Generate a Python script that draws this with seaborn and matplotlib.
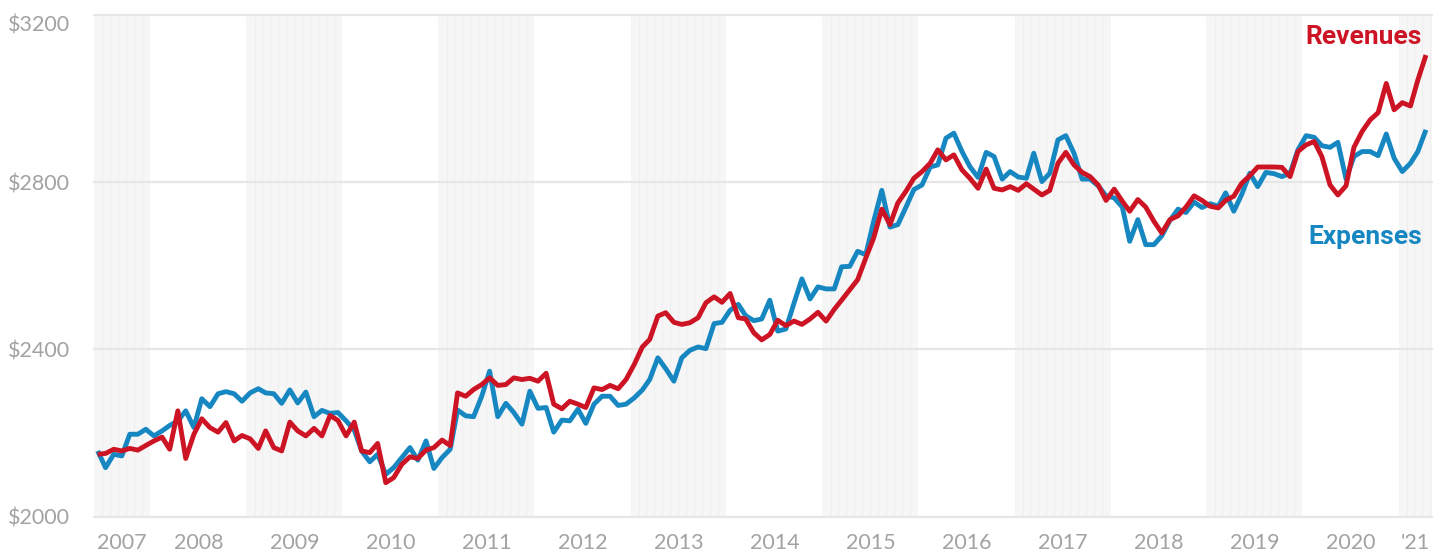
import matplotlib
matplotlib.use('Agg')
import matplotlib.pyplot as plt
from matplotlib.transforms import ScaledTranslation
import pandas as pd
import seaborn as sns

# monthly values, Jun 2007 .. Apr 2021
expenses = [
    2157, 2117, 2149, 2145, 2197, 2197, 2209,
    2193, 2205, 2218, 2229, 2253, 2213, 2282, 2263, 2294, 2299, 2294, 2276,
    2296, 2306, 2296, 2294, 2271, 2303, 2272, 2298, 2239, 2254, 2247, 2249,
    2229, 2207, 2157, 2131, 2149, 2101, 2117, 2141, 2165, 2135, 2181, 2115,
    2141, 2161, 2255, 2241, 2239, 2288, 2348, 2239, 2271, 2249, 2221, 2300,
    2259, 2261, 2202, 2231, 2229, 2257, 2223, 2269, 2288, 2288, 2266, 2269,
    2284, 2303, 2328, 2380, 2354, 2324, 2380, 2398, 2406, 2402, 2462, 2465,
    2494, 2508, 2481, 2469, 2473, 2518, 2444, 2449, 2511, 2569, 2521, 2550,
    2545, 2545, 2598, 2599, 2635, 2627, 2707, 2781, 2693, 2699, 2741, 2783,
    2794, 2837, 2842, 2906, 2918, 2874, 2838, 2812, 2872, 2862, 2808, 2826,
    2813, 2810, 2870, 2802, 2822, 2902, 2912, 2870, 2808, 2808, 2792, 2768,
    2763, 2741, 2659, 2711, 2651, 2651, 2672, 2709, 2736, 2728, 2753, 2740,
    2749, 2743, 2775, 2731, 2771, 2822, 2790, 2824, 2821, 2814, 2822, 2878,
    2912, 2908, 2888, 2884, 2896, 2808, 2862, 2874, 2874, 2864, 2916, 2858,
    2826, 2846, 2874, 2926,
]
revenues = [
    2149, 2151, 2161, 2157, 2163, 2159, 2170,
    2181, 2190, 2161, 2253, 2139, 2197, 2234, 2213, 2202, 2225, 2181, 2194,
    2186, 2163, 2205, 2165, 2157, 2226, 2205, 2193, 2211, 2193, 2242, 2230,
    2193, 2226, 2157, 2153, 2175, 2081, 2093, 2125, 2143, 2139, 2159, 2165,
    2183, 2170, 2296, 2288, 2304, 2316, 2332, 2314, 2316, 2332, 2328, 2331,
    2324, 2343, 2269, 2258, 2276, 2269, 2261, 2308, 2304, 2314, 2306, 2328,
    2364, 2406, 2424, 2480, 2488, 2465, 2460, 2464, 2476, 2512, 2526, 2513,
    2534, 2476, 2473, 2440, 2423, 2436, 2470, 2457, 2468, 2460, 2473, 2489,
    2468, 2496, 2518, 2543, 2567, 2619, 2667, 2736, 2699, 2751, 2779, 2810,
    2826, 2846, 2878, 2854, 2866, 2830, 2810, 2786, 2832, 2786, 2782, 2790,
    2781, 2797, 2784, 2770, 2781, 2846, 2872, 2842, 2824, 2814, 2794, 2757,
    2784, 2755, 2731, 2759, 2741, 2707, 2679, 2711, 2720, 2741, 2768, 2757,
    2743, 2739, 2757, 2767, 2798, 2816, 2837, 2837, 2837, 2836, 2814, 2874,
    2890, 2898, 2862, 2794, 2770, 2792, 2884, 2922, 2950, 2967, 3037, 2974,
    2991, 2983, 3045, 3105,
]
months = pd.date_range('2007-06-01', '2021-04-01', freq='MS') + pd.Timedelta(days=14)
yticks = [2000, 2400, 2800, 3200]
years = list(range(2007, 2022))
year_labels = [str(y) for y in years[:-1]] + ["'21"]

RED = '#CC1424'
BLUE = '#1787C2'
GREY = '#A2A2A2'

df = pd.DataFrame({
    'date': list(months) * 2,
    'value': expenses + revenues,
    'series': ['Expenses'] * len(months) + ['Revenues'] * len(months),
})

sns.set_style('white')
plt.rcParams['font.family'] = ['Lato', 'DejaVu Sans']

fig = plt.figure(figsize=(14.45, 5.56), dpi=100)
ax = fig.add_axes([94 / 1445, 1 - 516.5 / 556, (1432 - 94) / 1445, (516.5 - 15.4) / 556])

x0 = pd.Timestamp('2007-06-01')
x1 = pd.Timestamp('2021-05-08')

# shaded odd years with faint monthly stripes
for y in years:
    if y % 2 == 1:
        a = max(pd.Timestamp(f'{y}-01-01'), x0)
        b = min(pd.Timestamp(f'{y + 1}-01-01'), x1)
        ax.axvspan(a, b, color='#F6F6F6', lw=0, zorder=0)
        for m in pd.date_range(a, b, freq='MS'):
            if a < m < b:
                ax.axvline(m, color='#EDEDED', lw=0.6, zorder=0.5)

for v in yticks:
    ax.axhline(v, color='#E6E6E6', lw=1.6, zorder=1, clip_on=False)

sns.lineplot(data=df, x='date', y='value', hue='series',
             hue_order=['Expenses', 'Revenues'],
             palette={'Expenses': BLUE, 'Revenues': RED},
             linewidth=3.5, legend=False, ax=ax, zorder=3,
             solid_joinstyle='round', solid_capstyle='butt')

ax.set_xlim(x0, x1)
ax.set_ylim(2000, 3200)
ax.set_xlabel('')
ax.set_ylabel('')
for s in ax.spines.values():
    s.set_visible(False)

ax.set_yticks(yticks)
ax.set_yticklabels([f'${v}' for v in yticks], color=GREY, fontsize=15.5)
ax.tick_params(axis='y', length=0, pad=17)
top = ax.get_yticklabels()[-1]
top.set_transform(top.get_transform() + ScaledTranslation(0, -6 / 72, fig.dpi_scale_trans))

centers = []
for y in years:
    a = max(pd.Timestamp(f'{y}-01-01'), x0)
    b = min(pd.Timestamp(f'{y + 1}-01-01'), x1)
    centers.append(a + (b - a) / 2)
ax.set_xticks(centers)
ax.set_xticklabels(year_labels, color=GREY, fontsize=15.5)
ax.tick_params(axis='x', length=0, pad=12)

ax.text(1422 / 1445, 1 - 37 / 556, 'Revenues', transform=fig.transFigure,
        ha='right', va='center', color=RED, fontsize=19, fontweight='bold',
        family=['Roboto', 'DejaVu Sans'])
ax.text(1422 / 1445, 1 - 237 / 556, 'Expenses', transform=fig.transFigure,
        ha='right', va='center', color=BLUE, fontsize=19, fontweight='bold',
        family=['Roboto', 'DejaVu Sans'])

fig.savefig('out.png', dpi=100)
